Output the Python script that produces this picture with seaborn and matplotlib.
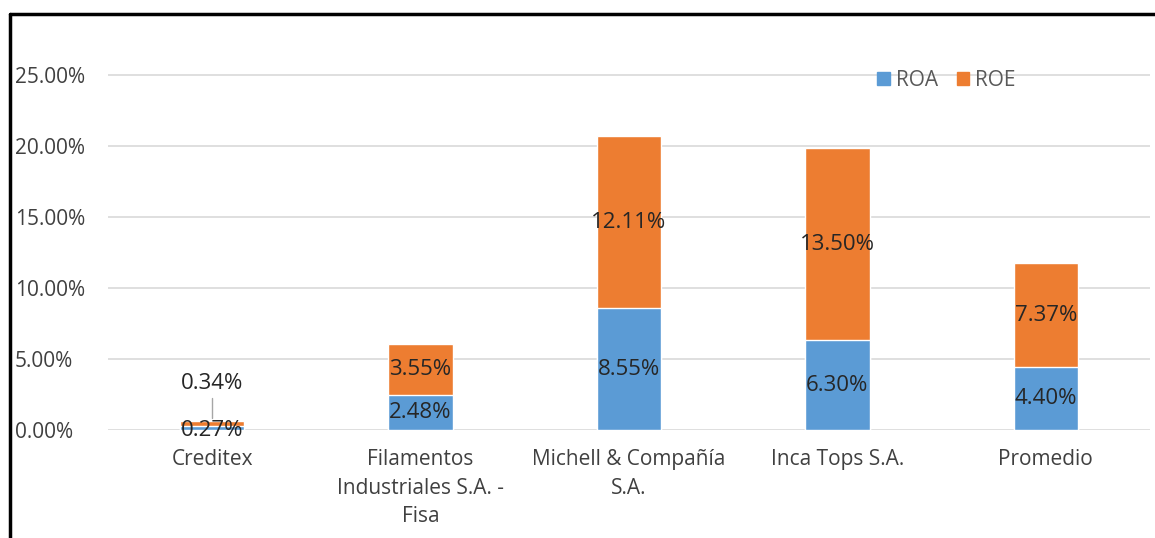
import matplotlib
matplotlib.use("Agg")
import matplotlib.pyplot as plt
import seaborn as sns
import pandas as pd
import numpy as np
from matplotlib.lines import Line2D
from matplotlib.patches import Patch

categories = ["Creditex", "Filamentos\nIndustriales S.A. -\nFisa", "Michell & Compañía\nS.A.",
              "Inca Tops S.A.", "Promedio"]
roa = [0.0027, 0.0248, 0.0855, 0.0630, 0.0440]
roe = [0.0034, 0.0355, 0.1211, 0.1350, 0.0737]
y_ticks = [0.0, 0.05, 0.10, 0.15, 0.20, 0.25]

BLUE = "#5B9BD5"
ORANGE = "#ED7D31"
FS = 15

sns.set_theme(style="white")
plt.rcParams['font.family'] = ['Open Sans', 'DejaVu Sans']

df = pd.DataFrame({"cat": categories, "ROA": roa, "ROE": roe})
df["total"] = df["ROA"] + df["ROE"]

fig = plt.figure(figsize=(11.55, 5.38), dpi=100)
ax = fig.add_axes([0.0935, 0.2007, 0.9022, 0.74])

sns.barplot(data=df, x="cat", y="total", color=ORANGE, width=0.31, saturation=1, ax=ax, zorder=3)
sns.barplot(data=df, x="cat", y="ROA", color=BLUE, width=0.31, saturation=1, ax=ax, zorder=4)

ax.set_ylim(0, 0.28)
ax.set_yticks(y_ticks)
ax.set_yticklabels([f"{t*100:.2f}%" for t in y_ticks], fontsize=FS, color="#404040")
ax.tick_params(axis="x", labelsize=FS, colors="#404040", length=0, pad=14)
ax.tick_params(axis="y", length=0, pad=67)
for lab in ax.get_yticklabels():
    lab.set_horizontalalignment("left")
for lab in ax.get_xticklabels():
    lab.set_linespacing(1.45)
for t in y_ticks:
    ax.axhline(t, color="#D9D9D9", lw=1.2, zorder=1)
for s in ax.spines.values():
    s.set_visible(False)
ax.set_xlabel("")
ax.set_ylabel("")
ax.set_xlim(-0.5, 4.5)

lab_kw = dict(ha="center", va="center", fontsize=16, color="#262626", zorder=6)
for i, (a, e) in enumerate(zip(roa, roe)):
    if i == 0:
        ax.text(i, 0.0, f"{a*100:.2f}%", **lab_kw)
        ax.text(i, 0.033, f"{e*100:.2f}%", **lab_kw)
        ax.plot([i, i], [0.0225, 0.0085], color="#A6A6A6", lw=1, zorder=5)
    else:
        ax.text(i, a / 2, f"{a*100:.2f}%", **lab_kw)
        ax.text(i, a + e / 2, f"{e*100:.2f}%", **lab_kw)

handles = [Patch(color=BLUE, label="ROA"), Patch(color=ORANGE, label="ROE")]
leg = ax.legend(handles=handles, loc="center left", bbox_to_anchor=(0.728, 0.878), ncol=2,
                frameon=False, fontsize=FS, handlelength=0.6, handleheight=0.6,
                handletextpad=0.3, columnspacing=0.9, borderpad=0)
for t in leg.get_texts():
    t.set_color("#595959")

# frame lines
fig.add_artist(Line2D([10/1155, 1], [1 - 14/538, 1 - 14/538], color="black", lw=2.5,
                      transform=fig.transFigure))
fig.add_artist(Line2D([10/1155, 10/1155], [0, 1 - 14/538], color="black", lw=2.5,
                      transform=fig.transFigure))

fig.savefig("out.png", dpi=100)
